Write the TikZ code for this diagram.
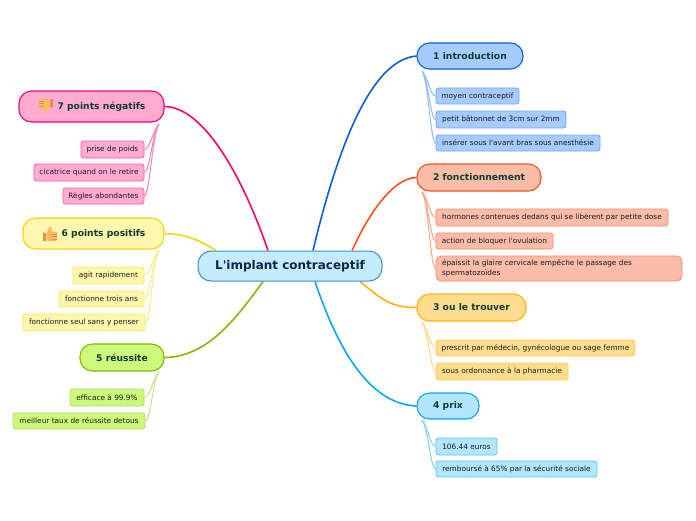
\documentclass[tikz,border=0pt]{standalone}
\usepackage{fontspec}
\defaultfontfeatures[\rmfamily]{}
\setmainfont{DejaVu Sans}
\usetikzlibrary{backgrounds}
\definecolor{cA}{HTML}{0B5FD6}\definecolor{fA}{HTML}{A6CCFF}\definecolor{lA}{HTML}{6FA6EF}
\definecolor{cB}{HTML}{F9501F}\definecolor{fB}{HTML}{FBBCA8}\definecolor{lB}{HTML}{FB8A66}
\definecolor{cC}{HTML}{FFB20D}\definecolor{fC}{HTML}{FFDC8E}\definecolor{lC}{HTML}{FFCB5C}
\definecolor{cD}{HTML}{06A8EF}\definecolor{fD}{HTML}{B2E6FF}\definecolor{lD}{HTML}{5CC6F5}
\definecolor{cE}{HTML}{85B800}\definecolor{fE}{HTML}{CCF97C}\definecolor{lE}{HTML}{B5DC5E}
\definecolor{cF}{HTML}{EED80F}\definecolor{fF}{HTML}{FFF7AE}\definecolor{lF}{HTML}{F5E760}
\definecolor{cG}{HTML}{F8026C}\definecolor{fG}{HTML}{FFABD2}\definecolor{lG}{HTML}{FB5CA3}
\definecolor{bt}{HTML}{0F3D33}\definecolor{mt}{HTML}{0D2350}\definecolor{lt}{HTML}{1A1A1A}
\definecolor{thumb}{HTML}{F5BC62}\definecolor{thumbd}{HTML}{E0954A}
\definecolor{fCentre}{HTML}{C5EBFF}\definecolor{bCentre}{HTML}{3A8FC8}
\tikzset{
 x=1pt,y=-1pt,
 centre/.style={draw=#1,line width=1pt,inner sep=0pt,rounded corners=13pt,fill=fCentre,text=mt,font=\fontsize{12}{14}\selectfont\bfseries},
 branch/.style={draw=c#1,fill=f#1,line width=1.1pt,inner sep=0pt,rounded corners=12.5pt,text=bt,font=\fontsize{9.2}{11}\selectfont\bfseries},
 leaf/.style={draw=l#1,fill=f#1,line width=.8pt,inner sep=0pt,rounded corners=2.5pt,text=lt,font=\fontsize{7.35}{9.6}\selectfont},
 link/.style={line width=1.6pt,draw=c#1},
 sub/.style={line width=.7pt,draw=l#1!70!white},
 subt/.style={line width=.35pt,draw=l#1}
}
% name, style, x1, y1, x2, y2, text
\newcommand\bx[7]{\node[#2,minimum width={(#5-#3)*1pt},minimum height={(#6-#4)*1pt},align=center] (#1) at ({(#3+#5)/2},{(#4+#6)/2}) {#7};}
\newcommand\thumbshape{%
 \fill[thumbd,rounded corners=.6pt] (0,6.5) rectangle (3,15);
 \fill[thumb,rounded corners=1.2pt] (3.5,6.5) -- (5.5,4) -- (6,.3) -- (8.3,.3) -- (8.8,5.5) -- (14,5.5) -- (14,15) -- (3.5,15) -- cycle;
 \draw[thumbd,line width=.35pt] (9,8) -- (14,8) (9,10.5) -- (14,10.5) (9,13) -- (14,13);
}
\begin{document}
\begin{tikzpicture}
\useasboundingbox (0,0) rectangle (696,520);
\node[centre=bCentre,minimum width=184pt,minimum height=30pt] (c) at (290,266) {\raisebox{-.8pt}{L'implant contraceptif}};
\bx{b1}{branch=A}{417}{43}{523}{69}{1 introduction}
\bx{b2}{branch=B}{417}{164}{541}{191}{2 fonctionnement}
\bx{b3}{branch=C}{417}{294}{526}{321}{\raisebox{-.6pt}{3 ou le trouver}}
\bx{b4}{branch=D}{417}{393}{479}{419}{\raisebox{-.6pt}{4 prix}}
\bx{b5}{branch=E}{80}{344}{164}{371}{5 réussite}
\bx{b6}{branch=F}{23}{218}{164}{249}{\hspace*{20pt}\raisebox{-.8pt}{6 points positifs}}
\bx{b7}{branch=G}{19}{91}{164}{122}{\hspace*{20pt}\raisebox{-1.4pt}{7 points négatifs}}
\bx{a1}{leaf=A}{436}{88}{519}{104}{moyen contraceptif}
\bx{a2}{leaf=A}{436}{111}{566}{128}{petit bâtonnet de 3cm sur 2mm}
\bx{a3}{leaf=A}{436}{135}{600}{151}{insérer sous l'avant bras sous anesthésie}
\bx{d1}{leaf=B}{436}{209}{668}{226}{hormones contenues dedans qui se libèrent par petite dose}
\bx{d2}{leaf=B}{436}{233}{553}{249}{action de bloquer l'ovulation}
\node[leaf=B,rounded corners=5pt,minimum width=246pt,minimum height=25pt,text width=234pt,align=left] (d3) at (559,268.5) {épaissit la glaire cervicale empêche le passage des\\spermatozoïdes};
\bx{e1}{leaf=C}{436}{340}{635}{356}{prescrit par médecin, gynécologue ou sage femme}
\bx{e2}{leaf=C}{436}{363}{568}{380}{sous ordonnance à la pharmacie}
\bx{g1}{leaf=D}{436}{438}{497}{455}{106.44 euros}
\bx{g2}{leaf=D}{436}{461}{597}{477}{remboursé à 65\% par la sécurité sociale}
\bx{h1}{leaf=E}{70}{389}{144}{406}{efficace à 99.9\%}
\bx{h2}{leaf=E}{13}{413}{145}{429}{meilleur taux de réussite detous}
\bx{i1}{leaf=F}{73}{267}{144}{284}{agit rapidement}
\bx{i2}{leaf=F}{59}{291}{144}{307}{fonctionne trois ans}
\bx{i3}{leaf=F}{23}{314}{145}{331}{fonctionne seul sans y penser}
\bx{j1}{leaf=G}{81}{141}{144}{158}{prise de poids}
\bx{j2}{leaf=G}{34}{164}{144}{181}{cicatrice quand on le retire}
\bx{j3}{leaf=G}{63}{188}{144}{204}{Règles abondantes}
\begin{scope}[shift={(43,226)}]\thumbshape\end{scope}
\begin{scope}[shift={(53,114)},rotate=180]\thumbshape\end{scope}
\coordinate (k1) at (422,71);\coordinate (k2) at (422,192);\coordinate (k3) at (422,322);\coordinate (k4) at (422,420);
\coordinate (k5) at (159,372);\coordinate (k6) at (159,250);\coordinate (k7) at (159,124);
\begin{scope}[on background layer]
\draw[link=A] ([xshift=23pt]c.north) .. controls +(24,-100) and (370,60) .. (b1.west);
\draw[link=B] ([xshift=62pt]c.north) .. controls +(16,-35) and (392,178) .. (b2.west);
\draw[link=C] ([xshift=70pt]c.south) .. controls +(18,14) and (388,308) .. (b3.west);
\draw[link=D] ([xshift=25pt]c.south) .. controls +(22,65) and (368,404) .. (b4.west);
\draw[link=E] ([xshift=-27pt]c.south) .. controls +(-30,42) and (205,357) .. (b5.east);
\draw[link=F] ([xshift=-74pt]c.north) .. controls +(-16,-10) and (186,234) .. (b6.east);
\draw[link=G] ([xshift=-22pt]c.north) .. controls +(-24,-70) and (205,107) .. (b7.east);
\foreach \s/\k/\l in {A/k1/a1,A/k1/a2,A/k1/a3,B/k2/d1,B/k2/d2,B/k2/d3,C/k3/e1,C/k3/e2,D/k4/g1,D/k4/g2}{
 \draw[sub=\s] (\k) .. controls +(7,6) and ([xshift=-6pt]\l.west) .. (\l.west);
 \draw[subt=\s] (\k) .. controls +(5,8) and ([xshift=-4pt]\l.west) .. (\l.west);
}
\foreach \s/\k/\l in {E/k5/h1,E/k5/h2,F/k6/i1,F/k6/i2,F/k6/i3,G/k7/j1,G/k7/j2,G/k7/j3}{
 \draw[sub=\s] (\k) .. controls +(-7,6) and ([xshift=6pt]\l.east) .. (\l.east);
 \draw[subt=\s] (\k) .. controls +(-5,8) and ([xshift=4pt]\l.east) .. (\l.east);
}
\end{scope}
\end{tikzpicture}
\end{document}
